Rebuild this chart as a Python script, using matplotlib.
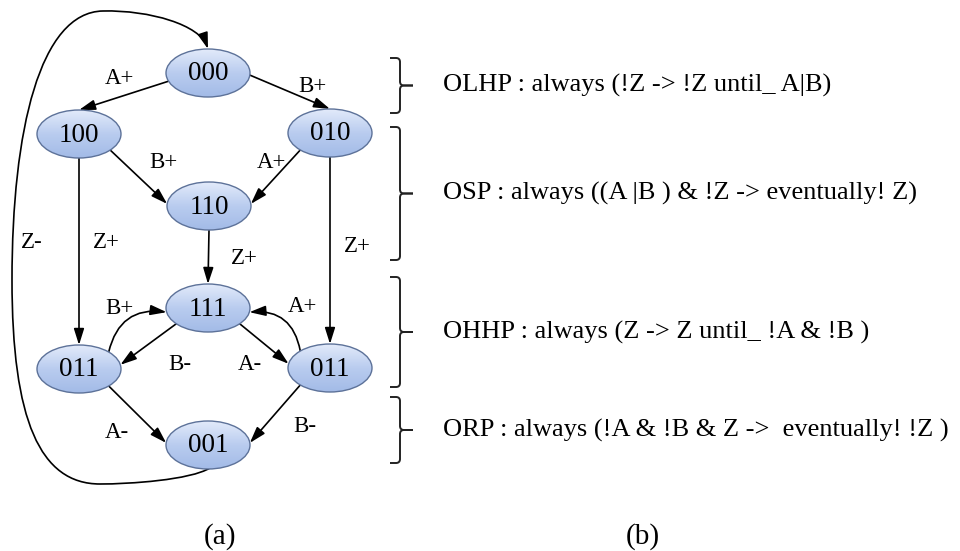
import numpy as np
import matplotlib
matplotlib.use("Agg")
import matplotlib.pyplot as plt
from matplotlib.patches import Ellipse, FancyArrowPatch, PathPatch
from matplotlib.path import Path
from matplotlib.colors import LinearSegmentedColormap

plt.rcParams['font.family'] = ['Liberation Serif', 'DejaVu Serif']

# states of the diagram (pixel centres, y down)
node_ids = ["000", "100", "010", "110", "111", "011L", "011R", "001"]
node_text = ["000", "100", "010", "110", "111", "011", "011", "001"]
node_x = [208, 79, 330, 209, 208, 79, 330, 208]
node_y = [73, 134, 133, 206, 308, 369, 368, 445]

# transitions: source, target, label, start angle, end angle, bend
edge_src = ["000", "000", "100", "010", "100", "010", "110", "111", "111", "011L", "011R", "011L", "011R"]
edge_dst = ["100", "010", "110", "110", "011L", "011R", "111", "011L", "011R", "111", "111", "001", "001"]
edge_lbl = ["A+", "B+", "B+", "A+", "Z+", "Z+", "Z+", "B-", "A-", "B+", "A+", "A-", "B-"]
edge_a0 = [200, -5, -42, 225, 270, 270, 270, 221, -41, 45, 135, -45, 225]
edge_a1 = [90, 90, 175, 5, 90, 90, 90, 10, 170, 190, -10, 175, 5]
edge_rad = [0, 0, 0, 0, 0, 0, 0, 0, 0, -0.45, 0.45, 0, 0]
lbl_x = [119, 312, 163, 271, 106, 357, 244, 180, 250, 119, 302, 117, 305]
lbl_y = [78, 86, 162, 162, 243, 247, 258, 364, 364, 308, 307, 432, 426]

# right hand side properties
prop_text = ["OLHP : always (!Z -> !Z until_ A|B)",
             "OSP : always ((A |B ) & !Z -> eventually! Z)",
             "OHHP : always (Z -> Z until_ !A & !B )",
             "ORP : always (!A & !B & Z ->  eventually! !Z )"]
brace_top = [58, 127, 277, 397]
brace_bot = [113, 260, 387, 463]

RX, RY = 42, 24

fig = plt.figure(figsize=(9.6, 5.51), dpi=100)
ax = fig.add_axes([0, 0, 1, 1])
ax.set_xlim(0, 960)
ax.set_ylim(551, 0)
ax.axis('off')

pos = dict(zip(node_ids, zip(node_x, node_y)))


def anchor(n, ang):
    cx, cy = pos[n]
    t = np.radians(ang)
    return (cx + RX * np.cos(t), cy - RY * np.sin(t))


arrow_kw = dict(arrowstyle='-|>,head_length=0.7,head_width=0.22', mutation_scale=14,
                color='black', lw=1.2, shrinkA=0, shrinkB=0)

for s, d, a0, a1, r in zip(edge_src, edge_dst, edge_a0, edge_a1, edge_rad):
    p0 = anchor(s, a0)
    p1 = anchor(d, a1)
    ax.add_patch(FancyArrowPatch(p0, p1, connectionstyle="arc3,rad=%s" % r, **arrow_kw))

for t, x, y in zip(edge_lbl, lbl_x, lbl_y):
    ax.text(x, y, t, fontsize=16.5, ha='center', va='center')

# big return loop 001 -> 000
loop = Path([(210, 468), (190, 480), (130, 484), (100, 484),
             (40, 484), (12, 420), (12, 280),
             (12, 130), (40, 12), (103, 11),
             (150, 10), (200, 25), (208, 49)],
            [Path.MOVETO] + [Path.CURVE4] * 12)
ax.add_patch(FancyArrowPatch(path=loop, **arrow_kw))
ax.text(32, 243, "Z-", fontsize=16.5, ha='center', va='center')

# nodes with soft blue gradient
cmap = LinearSegmentedColormap.from_list("node", ["#e2eafa", "#b9ccef", "#a3bbe7"])
grad = np.linspace(0, 1, 64).reshape(-1, 1)
for n, t in zip(node_ids, node_text):
    cx, cy = pos[n]
    e = Ellipse((cx, cy), 2 * RX, 2 * RY, facecolor='none', edgecolor='#5d7299', lw=1.0, zorder=4)
    ax.add_patch(e)
    im = ax.imshow(grad, cmap=cmap, extent=(cx - RX, cx + RX, cy + RY, cy - RY),
                   origin='upper', aspect='auto', zorder=3)
    im.set_clip_path(e)
    ax.text(cx, cy + 1, t, fontsize=19.5, ha='center', va='center', zorder=5)

ax.set_xlim(0, 960)
ax.set_ylim(551, 0)

# braces and properties
bx, bl, bt, r = 400, 390, 413, 4
for t, y0, y1 in zip(prop_text, brace_top, brace_bot):
    ym = (y0 + y1) / 2
    for ya, sgn in ((y0, 1), (y1, -1)):
        verts = [(bl, ya), (bx - r, ya), (bx, ya), (bx, ya + sgn * r),
                 (bx, ym - sgn * r), (bx, ym), (bx + r, ym), (bt, ym)]
        codes = [Path.MOVETO, Path.LINETO, Path.CURVE3, Path.CURVE3,
                 Path.LINETO, Path.CURVE3, Path.CURVE3, Path.LINETO]
        ax.add_patch(PathPatch(Path(verts, codes), facecolor='none', edgecolor='#222222', lw=1.4))
    ax.text(443, ym, t, fontsize=19, ha='left', va='center')

ax.text(220, 537, "(a)", fontsize=21, ha='center', va='center')
ax.text(643, 537, "(b)", fontsize=21, ha='center', va='center')

fig.savefig("out.png", dpi=100)
